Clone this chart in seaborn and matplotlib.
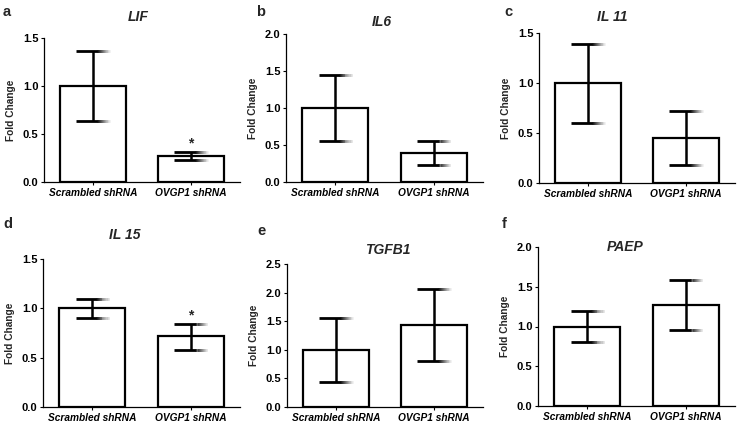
import matplotlib
matplotlib.use("Agg")
import matplotlib.pyplot as plt
import seaborn as sns
import numpy as np
import pandas as pd

sns.set_theme(style="ticks")
plt.rcParams['font.family'] = ['Liberation Sans', 'DejaVu Sans']

# ---------------- data ----------------
groups = ["Scrambled shRNA", "OVGP1 shRNA"]
genes = ["LIF", "IL6", "IL 11", "IL 15", "TGFB1", "PAEP"]
letters = ["a", "b", "c", "d", "e", "f"]

lif_mean = [1.00, 0.27]
lif_lo = [0.64, 0.23]
lif_hi = [1.36, 0.31]

il6_mean = [1.00, 0.39]
il6_lo = [0.55, 0.23]
il6_hi = [1.45, 0.55]

il11_mean = [1.00, 0.45]
il11_lo = [0.60, 0.18]
il11_hi = [1.39, 0.72]

il15_mean = [1.00, 0.72]
il15_lo = [0.90, 0.58]
il15_hi = [1.09, 0.84]

tgfb1_mean = [1.00, 1.43]
tgfb1_lo = [0.44, 0.80]
tgfb1_hi = [1.55, 2.07]

paep_mean = [1.00, 1.27]
paep_lo = [0.81, 0.96]
paep_hi = [1.19, 1.58]

significant = [[False, True], [False, False], [False, False],
               [False, True], [False, False], [False, False]]
y_max = [1.5, 2.0, 1.5, 1.5, 2.5, 2.0]

means = [lif_mean, il6_mean, il11_mean, il15_mean, tgfb1_mean, paep_mean]
lows = [lif_lo, il6_lo, il11_lo, il15_lo, tgfb1_lo, paep_lo]
highs = [lif_hi, il6_hi, il11_hi, il15_hi, tgfb1_hi, paep_hi]

# ---------------- layout (pixels) ----------------
W, H = 739, 426
# (left, right, top, bottom) of each axes in pixel coords
boxes = [(44, 240, 38, 182), (286, 483, 34, 182), (539, 735, 33, 183),
         (43, 240, 259, 407), (287, 483, 264, 407), (538, 735, 247, 406)]
title_pos = [(138, 17), (382, 22), (612, 17), (125, 235), (388, 250), (625, 247)]
letter_pos = [(3, 12), (256, 12), (504, 12), (3, 224), (257, 231), (502, 224)]

fig = plt.figure(figsize=(W / 100, H / 100), dpi=100)

cap_hw = 0.17
for k in range(6):
    l, r, t, b = boxes[k]
    ax = fig.add_axes([l / W, 1 - b / H, (r - l) / W, (b - t) / H])
    df = pd.DataFrame({"group": groups, "value": means[k]})
    sns.barplot(data=df, x="group", y="value", ax=ax, color="white",
                edgecolor="black", linewidth=1.6, width=0.67, errorbar=None,
                saturation=1)
    for p in ax.patches:
        p.set_facecolor("white")
        p.set_zorder(2)
    for i in range(2):
        lo, hi = lows[k][i], highs[k][i]
        ax.plot([i, i], [lo, hi], color="black", lw=1.8, zorder=3,
                solid_capstyle="butt")
        for yv in (lo, hi):
            ax.plot([i - cap_hw, i + 0.05], [yv, yv], color="black", lw=2.0,
                    zorder=3, solid_capstyle="butt")
            n = 12
            xs = np.linspace(i + 0.04, i + cap_hw, n + 1)
            step = xs[1] - xs[0]
            for j in range(n):
                g = 0.9 * (j + 1) / n
                x_end = xs[j + 1] + (0.6 * step if j < n - 1 else 0)
                ax.plot([xs[j], x_end], [yv, yv], color=(g, g, g),
                        lw=2.0, zorder=3 + j * 0.01, solid_capstyle="butt")
        if significant[k][i]:
            ax.annotate("*", xy=(i, hi), xytext=(0, 1), textcoords="offset points",
                        ha="center", va="bottom", fontsize=10, fontweight="bold")
    ax.set_xlim(-0.5, 1.5)
    ax.set_ylim(0, y_max[k])
    ticks = np.arange(0, y_max[k] + 0.001, 0.5)
    ax.set_yticks(ticks)
    ax.set_yticklabels([f"{v:.1f}" for v in ticks], fontsize=8, fontweight="bold")
    ax.set_xticks([0, 1])
    ax.set_xticklabels(groups, fontsize=7.3, fontweight="bold", fontstyle="italic")
    ax.set_xlabel("")
    ax.set_ylabel("Fold Change", fontsize=7.3, fontweight="bold", labelpad=5)
    ax.tick_params(axis="both", length=2.5, width=0.8, pad=1.5, colors="black")
    for s in ("top", "right"):
        ax.spines[s].set_visible(False)
    for s in ("left", "bottom"):
        ax.spines[s].set_linewidth(0.9)
        ax.spines[s].set_color("black")
    ax.set_facecolor("white")

    tx, ty = title_pos[k]
    fig.text(tx / W, 1 - ty / H, genes[k], ha="center", va="center",
             fontsize=10, fontweight="bold", fontstyle="italic")
    lx, ly = letter_pos[k]
    fig.text(lx / W, 1 - ly / H, letters[k], ha="left", va="center",
             fontsize=10.5, fontweight="bold")

fig.savefig("out.png", dpi=100, facecolor="white")
